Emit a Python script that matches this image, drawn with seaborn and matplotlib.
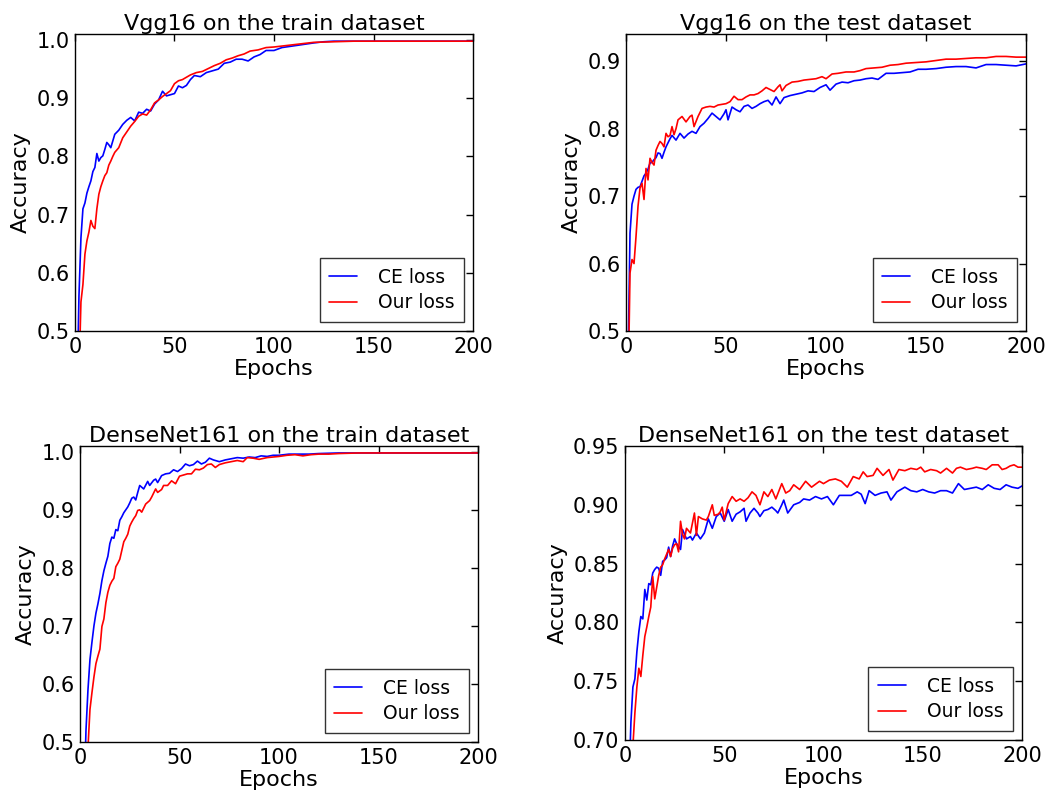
"""
Accuracy curves: CE loss vs our loss (Vgg16 / DenseNet161, train / test).
Values read by eye from the published figure.
"""

import matplotlib
matplotlib.use("Agg")
import matplotlib.pyplot as plt
import seaborn as sns

# ── Data: Vgg16, train ────────────────────────────────────────────────────────
VGG_TRAIN_CE_EP = [1, 2, 3, 4, 5, 6, 7, 8, 9, 10, 11, 12, 13, 14, 15, 16, 17, 18, 20,
                   22, 24, 26, 28, 30, 32, 34, 36, 38, 40, 42, 44, 46, 48, 50, 52, 54,
                   56, 58, 60, 63, 66, 69, 72, 75, 78, 81, 84, 87, 90, 93, 96, 100,
                   104, 108, 112, 116, 120, 125, 130, 140, 150, 160, 170, 180, 190, 200]
VGG_TRAIN_CE = [0.38, 0.56, 0.66, 0.71, 0.72, 0.737, 0.748, 0.758, 0.774, 0.781, 0.805,
                0.792, 0.798, 0.801, 0.812, 0.824, 0.820, 0.815, 0.838, 0.845, 0.855,
                0.862, 0.867, 0.861, 0.876, 0.874, 0.881, 0.878, 0.890, 0.897, 0.912,
                0.904, 0.906, 0.908, 0.921, 0.918, 0.922, 0.932, 0.939, 0.937, 0.944,
                0.947, 0.950, 0.960, 0.962, 0.967, 0.967, 0.964, 0.971, 0.975, 0.982,
                0.982, 0.987, 0.989, 0.991, 0.993, 0.995, 0.997, 0.998, 0.998, 0.998,
                0.998, 0.998, 0.998, 0.998, 0.998]

VGG_TRAIN_OUR_EP = [1, 2, 3, 4, 5, 6, 7, 8, 9, 10, 11, 12, 13, 14, 15, 16, 17, 18, 19,
                    20, 22, 24, 26, 28, 30, 32, 34, 36, 38, 40, 42, 44, 46, 48, 50, 52,
                    54, 56, 58, 61, 64, 67, 70, 73, 76, 79, 82, 85, 88, 92, 96, 100,
                    105, 110, 115, 120, 130, 140, 150, 160, 170, 180, 190, 200]
VGG_TRAIN_OUR = [0.30, 0.42, 0.55, 0.58, 0.632, 0.655, 0.670, 0.690, 0.680, 0.676,
                 0.710, 0.735, 0.748, 0.758, 0.767, 0.772, 0.785, 0.792, 0.800, 0.807,
                 0.815, 0.832, 0.842, 0.852, 0.860, 0.869, 0.873, 0.871, 0.880, 0.892,
                 0.897, 0.903, 0.908, 0.913, 0.925, 0.930, 0.932, 0.936, 0.940, 0.944,
                 0.946, 0.951, 0.956, 0.960, 0.966, 0.969, 0.973, 0.976, 0.981, 0.983,
                 0.987, 0.988, 0.990, 0.992, 0.994, 0.996, 0.997, 0.998, 0.998, 0.998,
                 0.998, 0.998, 0.998, 0.998]

# ── Data: Vgg16, test ─────────────────────────────────────────────────────────
VGG_TEST_CE_EP = [1, 2, 3, 4, 5, 6, 7, 8, 9, 10, 11, 12, 13, 14, 15, 16, 17, 18, 19,
                  20, 22, 23, 25, 27, 29, 31, 33, 35, 37, 39, 41, 43, 45, 47, 49, 50,
                  51, 53, 55, 57, 59, 61, 63, 65, 67, 69, 71, 73, 75, 77, 79, 82, 85,
                  88, 91, 94, 97, 100, 102, 105, 108, 111, 114, 117, 120, 123, 126,
                  130, 134, 138, 142, 146, 150, 155, 160, 165, 170, 175, 180, 185,
                  190, 195, 200]
VGG_TEST_CE = [0.45, 0.645, 0.688, 0.700, 0.710, 0.713, 0.714, 0.722, 0.730, 0.734,
               0.740, 0.749, 0.750, 0.754, 0.757, 0.764, 0.763, 0.756, 0.765, 0.773,
               0.785, 0.790, 0.783, 0.793, 0.786, 0.792, 0.796, 0.793, 0.803, 0.808,
               0.815, 0.823, 0.818, 0.813, 0.822, 0.828, 0.813, 0.832, 0.828, 0.825,
               0.833, 0.835, 0.830, 0.833, 0.837, 0.840, 0.842, 0.835, 0.847, 0.837,
               0.846, 0.849, 0.851, 0.853, 0.856, 0.855, 0.861, 0.865, 0.857, 0.866,
               0.869, 0.868, 0.871, 0.872, 0.874, 0.875, 0.873, 0.882, 0.882, 0.883,
               0.884, 0.888, 0.888, 0.889, 0.891, 0.892, 0.892, 0.890, 0.895, 0.895,
               0.894, 0.893, 0.896]

VGG_TEST_OUR_EP = [1, 2, 3, 4, 5, 6, 7, 8, 9, 10, 11, 12, 13, 14, 15, 16, 17, 18, 19,
                   20, 21, 22, 23, 24, 25, 26, 28, 30, 32, 33, 34, 36, 38, 40, 42, 44,
                   46, 48, 50, 52, 54, 56, 58, 60, 62, 64, 66, 68, 70, 72, 74, 76, 77,
                   78, 80, 83, 86, 89, 92, 95, 98, 100, 103, 106, 110, 114, 117, 120,
                   124, 128, 132, 136, 140, 145, 150, 155, 160, 165, 170, 175, 180,
                   185, 190, 195, 200]
VGG_TEST_OUR = [0.40, 0.586, 0.606, 0.600, 0.640, 0.685, 0.712, 0.719, 0.695, 0.741,
                0.724, 0.756, 0.750, 0.746, 0.768, 0.775, 0.781, 0.778, 0.773, 0.793,
                0.788, 0.790, 0.803, 0.791, 0.800, 0.813, 0.818, 0.810, 0.818, 0.820,
                0.803, 0.818, 0.830, 0.832, 0.833, 0.832, 0.835, 0.836, 0.837, 0.840,
                0.848, 0.843, 0.843, 0.847, 0.850, 0.850, 0.852, 0.856, 0.861, 0.858,
                0.855, 0.862, 0.865, 0.856, 0.864, 0.869, 0.870, 0.872, 0.873, 0.874,
                0.877, 0.874, 0.881, 0.882, 0.884, 0.884, 0.886, 0.889, 0.890, 0.891,
                0.894, 0.895, 0.897, 0.898, 0.899, 0.901, 0.903, 0.903, 0.904, 0.905,
                0.905, 0.907, 0.907, 0.906, 0.906]

# ── Data: DenseNet161, train ──────────────────────────────────────────────────
DN_TRAIN_CE_EP = [1, 2, 3, 4, 5, 6, 7, 8, 9, 10, 11, 12, 13, 14, 15, 16, 17, 18, 19,
                  20, 21, 22, 23, 24, 25, 26, 27, 28, 29, 30, 32, 34, 35, 37, 38, 39,
                  41, 43, 45, 47, 49, 51, 53, 55, 57, 59, 61, 63, 65, 67, 70, 73, 76,
                  79, 82, 85, 88, 91, 94, 97, 100, 105, 110, 115, 120, 130, 140, 150,
                  160, 170, 180, 190, 200]
DN_TRAIN_CE = [0.30, 0.40, 0.52, 0.59, 0.642, 0.672, 0.700, 0.722, 0.738, 0.756,
               0.778, 0.795, 0.808, 0.820, 0.842, 0.853, 0.851, 0.866, 0.864, 0.882,
               0.888, 0.895, 0.900, 0.905, 0.912, 0.920, 0.922, 0.917, 0.930, 0.942,
               0.936, 0.949, 0.942, 0.951, 0.953, 0.947, 0.959, 0.962, 0.963, 0.969,
               0.966, 0.971, 0.979, 0.976, 0.978, 0.984, 0.979, 0.982, 0.989, 0.986,
               0.983, 0.986, 0.988, 0.990, 0.989, 0.991, 0.990, 0.993, 0.992, 0.994,
               0.994, 0.996, 0.996, 0.996, 0.997, 0.998, 0.998, 0.998, 0.998, 0.998,
               0.998, 0.998, 0.998]

DN_TRAIN_OUR_EP = [1, 2, 3, 4, 5, 6, 7, 8, 9, 10, 11, 12, 13, 14, 15, 16, 17, 18, 19,
                   20, 21, 22, 23, 24, 25, 26, 27, 28, 29, 30, 31, 33, 35, 36, 38, 39,
                   41, 42, 44, 46, 48, 50, 52, 54, 56, 58, 60, 62, 64, 66, 68, 70, 73,
                   76, 79, 82, 84, 87, 90, 94, 97, 100, 104, 108, 112, 116, 120, 125,
                   130, 140, 150, 160, 170, 180, 190, 200]
DN_TRAIN_OUR = [0.20, 0.30, 0.40, 0.49, 0.556, 0.585, 0.612, 0.635, 0.648, 0.660,
                0.699, 0.712, 0.740, 0.758, 0.770, 0.777, 0.782, 0.802, 0.808, 0.815,
                0.830, 0.845, 0.851, 0.858, 0.872, 0.879, 0.885, 0.890, 0.899, 0.900,
                0.896, 0.910, 0.916, 0.922, 0.936, 0.930, 0.935, 0.942, 0.942, 0.950,
                0.945, 0.958, 0.960, 0.962, 0.962, 0.970, 0.969, 0.972, 0.978, 0.979,
                0.973, 0.978, 0.981, 0.983, 0.985, 0.983, 0.990, 0.989, 0.987, 0.990,
                0.991, 0.992, 0.994, 0.995, 0.993, 0.995, 0.996, 0.996, 0.997, 0.998,
                0.998, 0.998, 0.998, 0.998, 0.998, 0.998]

# ── Data: DenseNet161, test ───────────────────────────────────────────────────
DN_TEST_CE_EP = [1, 2, 3, 4, 5, 6, 7, 8, 9, 10, 11, 12, 13, 14, 15, 16, 17, 18, 19,
                 20, 21, 22, 23, 24, 25, 26, 28, 29, 31, 33, 34, 36, 38, 40, 42, 44,
                 46, 48, 50, 52, 54, 56, 58, 60, 61, 63, 65, 67, 68, 70, 72, 74, 76,
                 77, 79, 80, 82, 85, 88, 90, 93, 96, 99, 102, 105, 108, 111, 114, 117,
                 119, 121, 123, 126, 129, 132, 134, 137, 141, 144, 147, 150, 153, 156,
                 159, 162, 165, 168, 171, 174, 177, 180, 183, 186, 189, 192, 195, 198,
                 200]
DN_TEST_CE = [0.60, 0.66, 0.715, 0.745, 0.752, 0.775, 0.792, 0.805, 0.803, 0.828,
              0.819, 0.833, 0.832, 0.842, 0.845, 0.847, 0.846, 0.840, 0.852, 0.853,
              0.855, 0.864, 0.856, 0.865, 0.871, 0.867, 0.862, 0.879, 0.871, 0.873,
              0.870, 0.876, 0.871, 0.876, 0.888, 0.880, 0.890, 0.893, 0.886, 0.896,
              0.886, 0.892, 0.894, 0.897, 0.886, 0.893, 0.897, 0.893, 0.890, 0.895,
              0.896, 0.898, 0.895, 0.893, 0.900, 0.904, 0.893, 0.900, 0.902, 0.905,
              0.904, 0.907, 0.905, 0.907, 0.900, 0.908, 0.908, 0.908, 0.911, 0.909,
              0.901, 0.912, 0.908, 0.910, 0.911, 0.904, 0.911, 0.915, 0.912, 0.911,
              0.913, 0.911, 0.910, 0.912, 0.912, 0.910, 0.918, 0.913, 0.914, 0.915,
              0.913, 0.917, 0.914, 0.913, 0.917, 0.915, 0.914, 0.916]

DN_TEST_OUR_EP = [1, 2, 3, 4, 5, 6, 7, 8, 9, 10, 11, 12, 13, 14, 15, 16, 17, 18, 19,
                  20, 21, 22, 23, 24, 25, 26, 27, 28, 29, 30, 31, 33, 35, 36, 37, 39,
                  41, 42, 44, 45, 47, 48, 49, 50, 52, 54, 56, 58, 60, 62, 64, 66, 68,
                  70, 72, 74, 76, 79, 81, 83, 85, 88, 91, 94, 98, 100, 103, 106, 109,
                  112, 115, 118, 120, 122, 125, 127, 130, 133, 135, 138, 141, 144, 147,
                  149, 151, 154, 157, 159, 162, 165, 167, 169, 172, 175, 177, 180, 182,
                  185, 188, 190, 192, 194, 196, 198, 200]
DN_TEST_OUR = [0.55, 0.62, 0.67, 0.695, 0.723, 0.745, 0.761, 0.754, 0.772, 0.788,
               0.796, 0.805, 0.813, 0.839, 0.820, 0.830, 0.840, 0.847, 0.849, 0.854,
               0.858, 0.862, 0.856, 0.863, 0.866, 0.867, 0.860, 0.886, 0.875, 0.871,
               0.880, 0.876, 0.893, 0.874, 0.890, 0.888, 0.887, 0.890, 0.900, 0.891,
               0.892, 0.894, 0.898, 0.887, 0.901, 0.907, 0.903, 0.905, 0.903, 0.906,
               0.911, 0.908, 0.900, 0.911, 0.907, 0.913, 0.905, 0.918, 0.910, 0.912,
               0.917, 0.913, 0.920, 0.915, 0.920, 0.918, 0.921, 0.922, 0.920, 0.915,
               0.924, 0.922, 0.928, 0.924, 0.925, 0.931, 0.925, 0.930, 0.921, 0.930,
               0.929, 0.931, 0.930, 0.932, 0.928, 0.930, 0.929, 0.927, 0.931, 0.927,
               0.931, 0.932, 0.930, 0.931, 0.932, 0.931, 0.930, 0.934, 0.934, 0.930,
               0.931, 0.933, 0.934, 0.932, 0.932]

# ── Panel setup ───────────────────────────────────────────────────────────────
PANELS = [
    # title, axes rect, ylim, yticks, (ce_ep, ce), (our_ep, our)
    ("Vgg16 on the train dataset", [0.0714, 0.5836, 0.3791, 0.3734], (0.5, 1.01),
     [0.5, 0.6, 0.7, 0.8, 0.9, 1.0],
     (VGG_TRAIN_CE_EP, VGG_TRAIN_CE), (VGG_TRAIN_OUR_EP, VGG_TRAIN_OUR)),
    ("Vgg16 on the test dataset", [0.5962, 0.5836, 0.3810, 0.3734], (0.5, 0.94),
     [0.5, 0.6, 0.7, 0.8, 0.9],
     (VGG_TEST_CE_EP, VGG_TEST_CE), (VGG_TEST_OUR_EP, VGG_TEST_OUR)),
    ("DenseNet161 on the train dataset", [0.0762, 0.0667, 0.3791, 0.3723], (0.5, 1.01),
     [0.5, 0.6, 0.7, 0.8, 0.9, 1.0],
     (DN_TRAIN_CE_EP, DN_TRAIN_CE), (DN_TRAIN_OUR_EP, DN_TRAIN_OUR)),
    ("DenseNet161 on the test dataset", [0.5952, 0.0692, 0.3781, 0.3698], (0.70, 0.95),
     [0.70, 0.75, 0.80, 0.85, 0.90, 0.95],
     (DN_TEST_CE_EP, DN_TEST_CE), (DN_TEST_OUR_EP, DN_TEST_OUR)),
]

sns.set_style("white")
plt.rcParams["font.family"] = ["DejaVu Sans"]
plt.rcParams["axes.edgecolor"] = "black"
plt.rcParams["axes.linewidth"] = 1.0
plt.rcParams["text.color"] = "black"
plt.rcParams["axes.labelcolor"] = "black"

fig = plt.figure(figsize=(10.5, 7.95), dpi=100)

for title, rect, ylim, yticks, (ce_ep, ce), (our_ep, our) in PANELS:
    ax = fig.add_axes(rect)
    sns.lineplot(x=ce_ep, y=ce, ax=ax, color="#0000FF", linewidth=1.2,
                 estimator=None, sort=False, label="CE loss")
    sns.lineplot(x=our_ep, y=our, ax=ax, color="#FF0000", linewidth=1.2,
                 estimator=None, sort=False, label="Our loss")
    ax.set_xlim(0, 200)
    ax.set_ylim(*ylim)
    ax.set_xticks([0, 50, 100, 150, 200])
    ax.set_yticks(yticks)
    ax.tick_params(direction="in", top=True, right=True, length=5, width=1,
                   labelsize=15, pad=4, colors="black")
    ax.set_title(title, fontsize=16, pad=3, color="black")
    ax.set_xlabel("Epochs", fontsize=16, labelpad=2)
    ax.set_ylabel("Accuracy", fontsize=16, labelpad=4)
    leg = ax.legend(loc="lower right", fontsize=13.5, frameon=True, fancybox=False,
                    handlelength=1.5, handletextpad=1.1, borderpad=0.5,
                    labelspacing=0.35, borderaxespad=0.5)
    leg.get_frame().set_edgecolor("black")
    leg.get_frame().set_linewidth(1.0)
    for spine in ax.spines.values():
        spine.set_visible(True)

plt.savefig("out.png", dpi=100)
